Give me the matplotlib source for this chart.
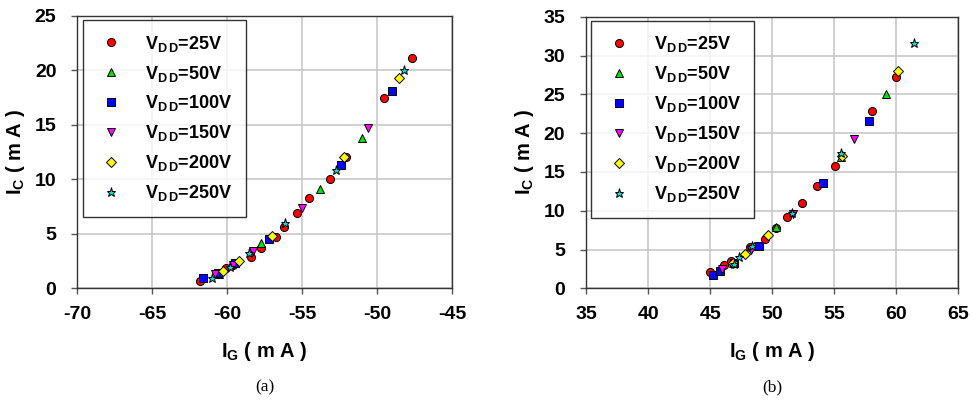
import matplotlib
matplotlib.use("Agg")
import matplotlib.pyplot as plt

# ---- data: panel (a) ----
a_25_x = [-61.82, -60.09, -59.64, -58.44, -57.71, -56.76, -56.22, -55.31, -54.51, -53.11, -52.09, -49.51, -47.69]
a_25_y = [0.70, 1.83, 2.14, 2.84, 3.67, 4.73, 5.65, 6.88, 8.32, 10.0, 12.05, 17.52, 21.1]
a_50_x = [-60.55, -57.71, -53.82, -51.0]
a_50_y = [1.30, 4.18, 9.08, 13.82]
a_100_x = [-61.64, -60.6, -59.49, -57.2, -52.42, -49.0]
a_100_y = [0.92, 1.38, 2.35, 4.49, 11.35, 18.13]
a_150_x = [-60.78, -59.64, -58.27, -55.02, -50.62]
a_150_y = [1.31, 2.14, 3.45, 7.34, 14.68]
a_200_x = [-60.31, -59.22, -56.98, -52.2, -48.51]
a_200_y = [1.61, 2.53, 4.80, 12.05, 19.3]
a_250_x = [-61.0, -59.82, -58.53, -56.11, -52.71, -48.2]
a_250_y = [1.0, 1.93, 3.21, 6.02, 10.83, 20.0]
a_xticks = [-70, -65, -60, -55, -50, -45]
a_yticks = [0, 5, 10, 15, 20, 25]

# ---- panel (b) ----
b_25_x = [45.0, 46.15, 46.7, 48.2, 49.4, 50.33, 51.18, 52.41, 53.61, 55.02, 58.0, 59.99]
b_25_y = [2.1, 3.05, 3.52, 5.32, 6.33, 7.73, 9.21, 11.0, 13.18, 15.8, 22.89, 27.26]
b_50_x = [46.8, 48.5, 50.3, 55.55, 59.19]
b_50_y = [3.3, 5.4, 7.86, 16.96, 25.03]
b_100_x = [45.22, 45.78, 46.93, 48.97, 54.09, 57.81]
b_100_y = [1.72, 2.23, 3.22, 5.5, 13.53, 21.55]
b_150_x = [45.98, 48.27, 51.7, 56.59]
b_150_y = [2.5, 4.9, 9.6, 19.28]
b_200_x = [46.81, 47.8, 49.69, 55.63, 60.1]
b_200_y = [3.26, 4.38, 6.83, 17.09, 28.04]
b_250_x = [46.9, 47.29, 48.4, 51.57, 55.52, 61.44]
b_250_y = [3.2, 4.04, 5.5, 9.75, 17.5, 31.64]
b_xticks = [35, 40, 45, 50, 55, 60, 65]
b_yticks = [0, 5, 10, 15, 20, 25, 30, 35]

vdd_labels = ["25", "50", "100", "150", "200", "250"]
markers = ["o", "^", "s", "v", "D", "*"]
colors = ["#FF0000", "#00E000", "#0000FF", "#FF00FF", "#FFFF00", "#00DDDD"]
msizes = [5.8, 5.8, 5.3, 6.3, 5.3, 6.8]

plt.rcParams["mathtext.fontset"] = "custom"
plt.rcParams["mathtext.rm"] = "Liberation Sans:bold"
plt.rcParams["mathtext.it"] = "Liberation Sans:bold"
plt.rcParams["mathtext.bf"] = "Liberation Sans:bold"

SANS = ["Liberation Sans", "DejaVu Sans"]


def draw_panel(ax, series, xticks, yticks, tag):
    for (xs, ys), m, c, ms, v in zip(series, markers, colors, msizes, vdd_labels):
        ax.plot(xs, ys, ls="none", marker=m, ms=ms, mfc=c, mec="black", mew=0.7,
                label="V" + r"$_{\mathrm{D\,D}}$" + "=" + v + "V", zorder=3)

    ax.set_xlim(xticks[0], xticks[-1])
    ax.set_ylim(yticks[0], yticks[-1])
    ax.set_xticks(xticks)
    ax.set_yticks(yticks)
    ax.set_xticklabels([str(t) for t in xticks], family=SANS,
                       fontsize=14, fontweight="bold")
    ax.set_yticklabels([str(t) for t in yticks], family=SANS,
                       fontsize=14, fontweight="bold")
    ax.grid(True, color="#c8c8c8", lw=1.2, zorder=0)
    ax.set_axisbelow(True)

    for s in ax.spines.values():
        s.set_color("#333333")
        s.set_linewidth(1.0)
    ax.tick_params(axis="x", direction="out", length=4, width=1, color="#555555", pad=9)
    ax.tick_params(axis="y", direction="out", length=4, width=1, color="#555555", pad=11)

    ax.set_ylabel(r"$\mathbf{I_{C}}$" + " ( m A )", family=SANS,
                  fontsize=14.5, fontweight="bold")
    ax.yaxis.set_label_coords(-0.135, 0.5)
    ax.set_xlabel(r"$\mathbf{I_{G}}$" + " ( m A )", family=SANS,
                  fontsize=14.5, fontweight="bold", labelpad=12)

    leg = ax.legend(loc="upper left", bbox_to_anchor=(0.014, 0.985),
                    frameon=True, fancybox=False, edgecolor="black",
                    prop={"family": SANS, "size": 13, "weight": "bold"},
                    borderpad=0.75, labelspacing=0.55, handletextpad=1.1,
                    handlelength=1.6, borderaxespad=0)
    leg.get_frame().set_linewidth(1.0)

    ax.text(0.5, -0.365, tag, transform=ax.transAxes, ha="center", va="center",
            family=["Liberation Serif", "DejaVu Serif"], fontsize=12.5)


fig = plt.figure(figsize=(9.72, 4.0), dpi=100)
ax1 = fig.add_axes([0.0795, 0.279, 0.3855, 0.681])
ax2 = fig.add_axes([0.603, 0.279, 0.383, 0.679])

draw_panel(ax1, [(a_25_x, a_25_y), (a_50_x, a_50_y), (a_100_x, a_100_y),
                 (a_150_x, a_150_y), (a_200_x, a_200_y), (a_250_x, a_250_y)],
           a_xticks, a_yticks, "(a)")
draw_panel(ax2, [(b_25_x, b_25_y), (b_50_x, b_50_y), (b_100_x, b_100_y),
                 (b_150_x, b_150_y), (b_200_x, b_200_y), (b_250_x, b_250_y)],
           b_xticks, b_yticks, "(b)")

fig.savefig("out.png", dpi=100)
